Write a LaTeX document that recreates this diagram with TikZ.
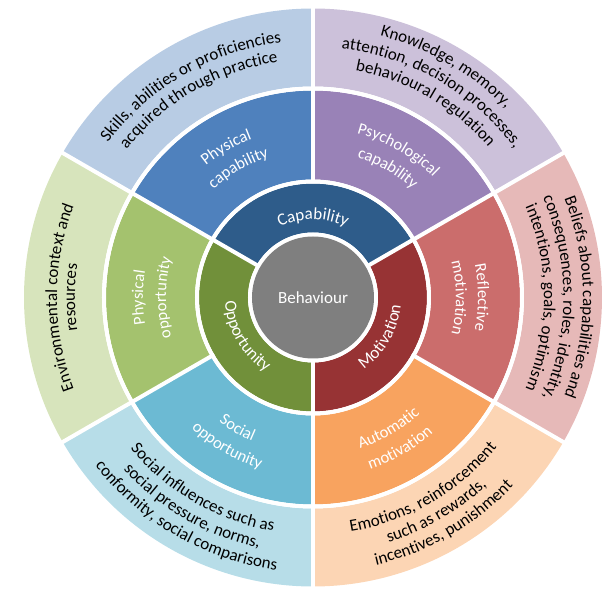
\documentclass[tikz,border=0pt]{standalone}
\usepackage{fontspec}
\setmainfont{Carlito}
\usetikzlibrary{decorations.text}
\definecolor{behgray}{HTML}{7F7F7F}
\definecolor{capC}{HTML}{2E5C8A}
\definecolor{oppC}{HTML}{71903A}
\definecolor{motC}{HTML}{973334}
\definecolor{physcap}{HTML}{4F81BD}
\definecolor{psycap}{HTML}{9982B7}
\definecolor{refmot}{HTML}{CB6D6C}
\definecolor{automot}{HTML}{F8A35F}
\definecolor{socopp}{HTML}{6CBAD3}
\definecolor{physopp}{HTML}{A4C26E}
\definecolor{oskills}{HTML}{B8CCE4}
\definecolor{oknow}{HTML}{CCC1DA}
\definecolor{obelief}{HTML}{E6B9B8}
\definecolor{oemo}{HTML}{FCD5B4}
\definecolor{osocial}{HTML}{B7DDE8}
\definecolor{oenv}{HTML}{D7E4BC}
\newcommand\fouter{\fontsize{17}{19}\selectfont}
\newcommand\fmid{\fontsize{16.5}{18}\selectfont}
\newcommand\finner{\fontsize{17}{19}\selectfont}
% start angle, end angle, inner radius, outer radius, colour
\newcommand\ringpart[5]{\fill[#5] (#1:#3pt) arc[start angle=#1,end angle=#2,radius=#3pt] -- (#2:#4pt) arc[start angle=#2,end angle=#1,radius=#4pt] -- cycle;}
% start angle, end angle, radius, font, colour, text
\newcommand\arctext[6]{\path[decorate,decoration={text along path,text align=center,text color=#5,text={|#4|#6}}] (#1:#3pt) arc[start angle=#1,end angle=#2,radius=#3pt];}
\tikzset{gap/.style={white,line width=4pt}}
\begin{document}
\begin{tikzpicture}
\useasboundingbox (-313pt,-291.5pt) rectangle (293pt,297.5pt);
% outer ring
\ringpart{90}{150}{211}{289}{oskills}
\ringpart{30}{90}{211}{289}{oknow}
\ringpart{-30}{30}{211}{289}{obelief}
\ringpart{270}{330}{211}{289}{oemo}
\ringpart{210}{270}{211}{289}{osocial}
\ringpart{150}{210}{211}{289}{oenv}
% middle ring
\ringpart{90}{150}{118}{207}{physcap}
\ringpart{30}{90}{118}{207}{psycap}
\ringpart{-30}{30}{118}{207}{refmot}
\ringpart{270}{330}{118}{207}{automot}
\ringpart{210}{270}{118}{207}{socopp}
\ringpart{150}{210}{118}{207}{physopp}
% inner ring
\ringpart{30}{150}{65}{114}{capC}
\ringpart{150}{270}{65}{114}{oppC}
\ringpart{-90}{30}{65}{114}{motC}
% gaps
\foreach \a in {30,150,270} \draw[gap] (\a:60pt) -- (\a:292pt);
\foreach \a in {90,210,330} \draw[gap] (\a:114pt) -- (\a:292pt);
\draw[gap] (0,0) circle[radius=116pt];
\draw[gap] (0,0) circle[radius=209pt];
\draw[gap] (0,0) circle[radius=63pt];
% centre
\node[circle,fill=behgray,minimum size=122pt,inner sep=0pt,text=white,font=\finner] (beh) at (0,0) {Behaviour};
% inner texts
\arctext{150}{30}{78}{\finner}{white}{Capability}
\arctext{150}{270}{88}{\finner}{white}{Opportunity}
\arctext{270}{390}{88}{\finner}{white}{Motivation}
% middle texts
\arctext{150}{90}{170}{\fmid}{white}{Physical}
\arctext{150}{90}{147}{\fmid}{white}{capability}
\arctext{90}{30}{170}{\fmid}{white}{Psychological}
\arctext{90}{30}{147}{\fmid}{white}{capability}
\arctext{30}{-30}{165}{\fmid}{white}{Reflective}
\arctext{30}{-30}{143}{\fmid}{white}{motivation}
\arctext{270}{330}{158}{\fmid}{white}{Automatic}
\arctext{270}{330}{181}{\fmid}{white}{motivation}
\arctext{210}{270}{156}{\fmid}{white}{Social}
\arctext{210}{270}{179}{\fmid}{white}{opportunity}
\arctext{210}{150}{170}{\fmid}{white}{Physical}
\arctext{210}{150}{147}{\fmid}{white}{opportunity}
% outer texts
\arctext{150}{90}{257}{\fouter}{black}{Skills, abilities or proficiencies}
\arctext{150}{90}{238}{\fouter}{black}{acquired through practice}
\arctext{90}{30}{270}{\fouter}{black}{Knowledge, memory,}
\arctext{90}{30}{250.5}{\fouter}{black}{attention, decision processes,}
\arctext{90}{30}{231}{\fouter}{black}{behavioural regulation}
\arctext{30}{-30}{270}{\fouter}{black}{Beliefs about capabilities and}
\arctext{30}{-30}{250.5}{\fouter}{black}{consequences, roles, identity,}
\arctext{30}{-30}{231}{\fouter}{black}{intentions, goals, optimism}
\arctext{270}{330}{237}{\fouter}{black}{Emotions, reinforcement}
\arctext{270}{330}{256}{\fouter}{black}{such as rewards,}
\arctext{270}{330}{275}{\fouter}{black}{incentives, punishment}
\arctext{210}{270}{237}{\fouter}{black}{Social influences such as}
\arctext{210}{270}{256}{\fouter}{black}{social pressure, norms,}
\arctext{210}{270}{275}{\fouter}{black}{conformity, social comparisons}
\arctext{210}{150}{256}{\fouter}{black}{Environmental context and}
\arctext{210}{150}{238}{\fouter}{black}{resources}
\end{tikzpicture}
\end{document}
